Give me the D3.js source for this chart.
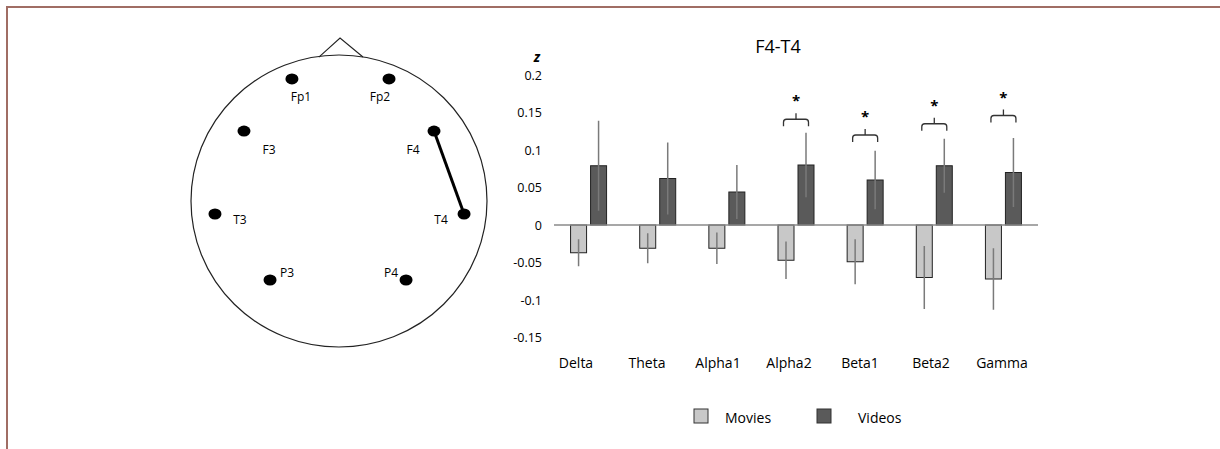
<!DOCTYPE html>
<html>
<head>
<meta charset="utf-8">
<script src="https://cdn.jsdelivr.net/npm/d3@7"></script>
<style>
  body { margin: 0; background: #fff; }
  svg { display: block; font-family: "Open Sans", "Liberation Sans", sans-serif; }
</style>
</head>
<body>
<script>
// --- data ---
var bands = ["Delta", "Theta", "Alpha1", "Alpha2", "Beta1", "Beta2", "Gamma"];
var groups = ["Movies", "Videos"];
var moviesMean = [-0.037, -0.031, -0.031, -0.047, -0.049, -0.070, -0.072];
var moviesErr = [0.018, 0.020, 0.021, 0.025, 0.030, 0.042, 0.041];
var videosMean = [0.079, 0.062, 0.044, 0.080, 0.060, 0.079, 0.070];
var videosErr = [0.060, 0.048, 0.036, 0.043, 0.039, 0.036, 0.046];
var significant = ["Alpha2", "Beta1", "Beta2", "Gamma"];
var bracketLevel = [0.141, 0.120, 0.135, 0.146];
var yTicks = [0.2, 0.15, 0.1, 0.05, 0, -0.05, -0.1, -0.15];

// electrodes in head-normalised coordinates (-1..1)
var electrodes = ["Fp1", "Fp2", "F3", "F4", "T3", "T4", "P3", "P4"];
var electrodeX = [-0.318, 0.338, -0.642, 0.642, -0.838, 0.845, -0.466, 0.453];
var electrodeY = [-0.836, -0.836, -0.479, -0.479, 0.089, 0.089, 0.541, 0.541];
var connection = ["F4", "T4"];

var width = 1220;
var height = 449;

var svg = d3.select("body").append("svg")
    .attr("width", width)
    .attr("height", height);

svg.append("rect").attr("width", width).attr("height", height).attr("fill", "#fff");

// frame (top and left edges visible)
svg.append("path")
    .attr("d", "M7,449 V7 H1220")
    .attr("fill", "none")
    .attr("stroke", "#a06d64")
    .attr("stroke-width", 2);

// --- head diagram ---
var head = { cx: 339, cy: 201, rx: 148, ry: 146 };
var hx = d3.scaleLinear().domain([-1, 1]).range([head.cx - head.rx, head.cx + head.rx]);
var hy = d3.scaleLinear().domain([-1, 1]).range([head.cy - head.ry, head.cy + head.ry]);

var headG = svg.append("g");
headG.append("path")
    .attr("d", "M" + hx(-0.136) + "," + hy(-0.986) + " L" + hx(0.007) + "," + (hy(-1) - 17) + " L" + hx(0.162) + "," + hy(-0.986))
    .attr("fill", "none")
    .attr("stroke", "#222")
    .attr("stroke-width", 1.1);
headG.append("ellipse")
    .attr("cx", head.cx).attr("cy", head.cy)
    .attr("rx", head.rx).attr("ry", head.ry)
    .attr("fill", "none")
    .attr("stroke", "#222")
    .attr("stroke-width", 1.2);

var eIdx = function (name) { return electrodes.indexOf(name); };
headG.append("line")
    .attr("x1", hx(electrodeX[eIdx(connection[0])]))
    .attr("y1", hy(electrodeY[eIdx(connection[0])]))
    .attr("x2", hx(electrodeX[eIdx(connection[1])]))
    .attr("y2", hy(electrodeY[eIdx(connection[1])]))
    .attr("stroke", "#000")
    .attr("stroke-width", 3);

headG.selectAll("ellipse.el")
    .data(electrodes)
    .enter().append("ellipse")
    .attr("class", "el")
    .attr("cx", function (d, i) { return hx(electrodeX[i]); })
    .attr("cy", function (d, i) { return hy(electrodeY[i]); })
    .attr("rx", 6.5).attr("ry", 5.5)
    .attr("fill", "#000");

var labelOffset = {
    Fp1: [9, 18], Fp2: [-9, 18], F3: [25, 18], F4: [-21, 18],
    T3: [25, 6], T4: [-23, 6], P3: [17, -7], P4: [-15, -7]
};
headG.selectAll("text.el")
    .data(electrodes)
    .enter().append("text")
    .attr("class", "el")
    .attr("x", function (d, i) { return hx(electrodeX[i]) + labelOffset[d][0]; })
    .attr("y", function (d, i) { return hy(electrodeY[i]) + labelOffset[d][1]; })
    .attr("text-anchor", "middle")
    .attr("dominant-baseline", "central")
    .attr("font-size", 12)
    .attr("fill", "#000")
    .text(function (d) { return d; });

// --- bar chart ---
var x = d3.scaleBand().domain(bands).range([554, 1038]);
var xInner = d3.scaleBand().domain(groups).range([-18, 18]).paddingInner(0.2);
var xLabel = d3.scalePoint().domain(bands).range([576, 1002]);
var y = d3.scaleLinear().domain([-0.15, 0.2]).range([337.5, 75]);

var chart = svg.append("g");

chart.append("text")
    .attr("x", 778).attr("y", 46)
    .attr("text-anchor", "middle")
    .attr("dominant-baseline", "central")
    .attr("font-size", 18)
    .attr("fill", "#000")
    .text("F4-T4");

chart.append("text")
    .attr("x", 540).attr("y", 56)
    .attr("text-anchor", "end")
    .attr("dominant-baseline", "central")
    .attr("font-size", 14)
    .attr("font-weight", "bold")
    .attr("font-style", "italic")
    .attr("fill", "#000")
    .text("z");

var yAxis = chart.append("g")
    .attr("transform", "translate(554,0)")
    .call(d3.axisLeft(y).tickValues(yTicks).tickSize(0).tickPadding(12)
        .tickFormat(function (d) { return String(+d.toFixed(2)); }));
yAxis.select(".domain").remove();
yAxis.selectAll("text")
    .attr("font-family", "\"Open Sans\", sans-serif")
    .attr("font-size", 12.5)
    .attr("fill", "#000");

var series = [
    { name: "Movies", mean: moviesMean, err: moviesErr, fill: "#c8c8c8" },
    { name: "Videos", mean: videosMean, err: videosErr, fill: "#5a5a5a" }
];

series.forEach(function (s) {
    var g = chart.append("g");
    g.selectAll("rect")
        .data(bands)
        .enter().append("rect")
        .attr("x", function (d) { return x(d) + x.bandwidth() / 2 + xInner(s.name); })
        .attr("width", xInner.bandwidth())
        .attr("y", function (d, i) { return y(Math.max(0, s.mean[i])); })
        .attr("height", function (d, i) { return Math.abs(y(s.mean[i]) - y(0)); })
        .attr("fill", s.fill)
        .attr("stroke", "#222")
        .attr("stroke-width", 1);
    g.selectAll("line")
        .data(bands)
        .enter().append("line")
        .attr("x1", function (d) { return x(d) + x.bandwidth() / 2 + xInner(s.name) + xInner.bandwidth() / 2; })
        .attr("x2", function (d) { return x(d) + x.bandwidth() / 2 + xInner(s.name) + xInner.bandwidth() / 2; })
        .attr("y1", function (d, i) { return y(s.mean[i] + s.err[i]); })
        .attr("y2", function (d, i) { return y(s.mean[i] - s.err[i]); })
        .attr("stroke", "#7a7a7a")
        .attr("stroke-width", 1.5);
});

// zero line
chart.append("line")
    .attr("x1", x.range()[0]).attr("x2", x.range()[1])
    .attr("y1", y(0)).attr("y2", y(0))
    .attr("stroke", "#8a8a8a")
    .attr("stroke-width", 1.3);

// category labels
chart.selectAll("text.cat")
    .data(bands)
    .enter().append("text")
    .attr("class", "cat")
    .attr("x", function (d) { return xLabel(d); })
    .attr("y", 362)
    .attr("text-anchor", "middle")
    .attr("dominant-baseline", "central")
    .attr("font-size", 14)
    .attr("fill", "#000")
    .text(function (d) { return d; });

// significance braces
var brace = function (cx, top) {
    var w = 12.5, r = 3, drop = 7;
    return "M" + (cx - w) + "," + (top + drop) +
        " V" + (top + r) +
        " Q" + (cx - w) + "," + top + " " + (cx - w + r) + "," + top +
        " H" + (cx + w - r) +
        " Q" + (cx + w) + "," + top + " " + (cx + w) + "," + (top + r) +
        " V" + (top + drop) +
        " M" + cx + "," + top + " V" + (top - 6);
};
var sig = chart.selectAll("g.sig")
    .data(significant)
    .enter().append("g")
    .attr("class", "sig");
sig.append("path")
    .attr("d", function (d, i) { return brace(x(d) + x.bandwidth() / 2, y(bracketLevel[i])); })
    .attr("fill", "none")
    .attr("stroke", "#333")
    .attr("stroke-width", 1.3);
sig.append("text")
    .attr("x", function (d) { return x(d) + x.bandwidth() / 2; })
    .attr("y", function (d, i) { return y(bracketLevel[i]) - 13; })
    .attr("text-anchor", "middle")
    .attr("font-size", 15)
    .attr("font-weight", "bold")
    .attr("fill", "#000")
    .text("*");

// legend
var legendX = [694, 817];
var legend = chart.selectAll("g.legend")
    .data(series)
    .enter().append("g")
    .attr("class", "legend")
    .attr("transform", function (d, i) { return "translate(" + legendX[i] + ",409)"; });
legend.append("rect")
    .attr("width", 14).attr("height", 14)
    .attr("fill", function (d) { return d.fill; })
    .attr("stroke", "#333")
    .attr("stroke-width", 1);
legend.append("text")
    .attr("x", function (d, i) { return i === 0 ? 31 : 41; })
    .attr("y", 8)
    .attr("dominant-baseline", "central")
    .attr("font-size", 14)
    .attr("fill", "#000")
    .text(function (d) { return d.name; });
</script>
</body>
</html>
